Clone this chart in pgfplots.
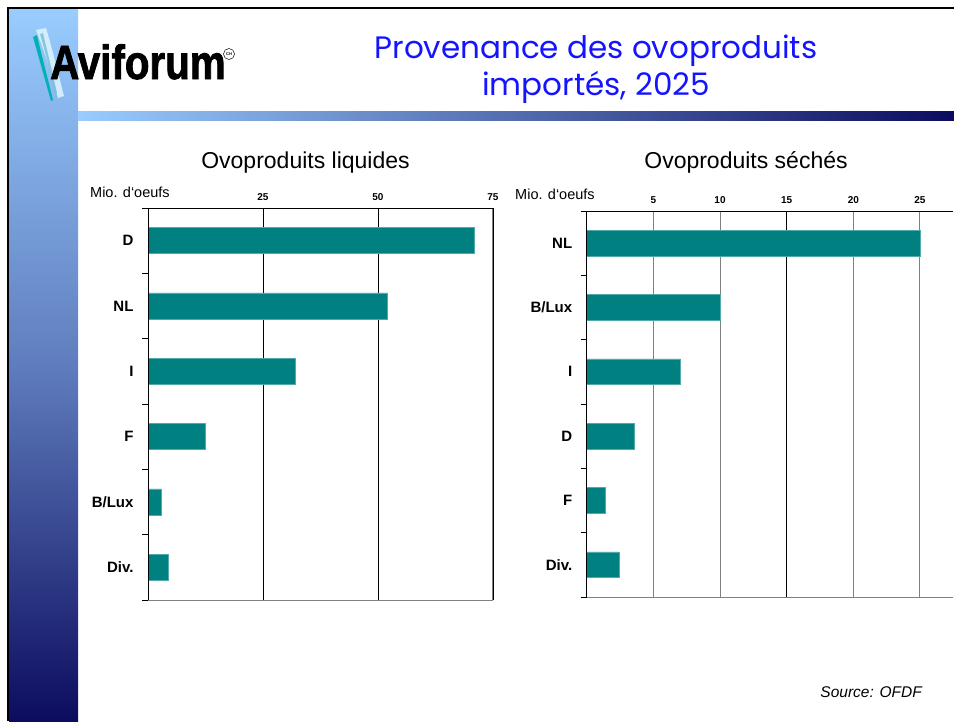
\documentclass[border=0pt]{standalone}
\usepackage{pgfplots}
\pgfplotsset{compat=1.18}
\usepackage{fontspec}
\setmainfont{Liberation Sans}
\newfontfamily\titlefont{Poppins}
\newfontfamily\logofont{Liberation Sans}[FakeBold=1.8]
\definecolor{barteal}{RGB}{0,128,128}
\definecolor{baredge}{RGB}{80,170,170}
\definecolor{lightblu}{RGB}{153,204,255}
\definecolor{midblu}{RGB}{95,125,190}
\definecolor{navy}{RGB}{12,12,94}
\definecolor{titleblue}{RGB}{20,20,255}
\newcommand{\fs}[1]{\fontsize{#1}{#1}\selectfont}
\begin{document}
\begin{tikzpicture}[x=1pt,y=1pt]
\path[use as bounding box] (0,0) rectangle (954,-721);
% decoration
\shade[top color=lightblu, bottom color=navy, middle color=midblu] (9,-9) rectangle (78,-721);
\shade[left color=lightblu, right color=navy] (78,-111) rectangle (954,-120);
\draw[line width=1.6pt] (8,-721) -- (8,-8) -- (954,-8);
% logo feather
\fill[white!85!cyan, opacity=0.9] (36,-30) .. controls (44,-50) and (52,-75) .. (58,-98) -- (64,-96) .. controls (58,-72) and (52,-48) .. (46,-28) -- cycle;
\fill[teal!60!cyan] (33,-37) .. controls (39,-58) and (45,-80) .. (51,-101) -- (53,-100) .. controls (48,-79) and (42,-57) .. (37,-35) -- cycle;
\fill[cyan!50!teal!60!white, opacity=0.8] (40,-34) .. controls (46,-55) and (51,-75) .. (55,-94) -- (57,-93) .. controls (53,-74) and (48,-54) .. (43,-33) -- cycle;
\node[anchor=base west, inner sep=0pt] at (50,-79) {\scalebox{0.84}[1]{\logofont\fs{48}\bfseries Aviforum}};
\draw[line width=0.5pt] (229,-54) circle (5.5);
\node[inner sep=0pt] at (229,-54) {\fs{4}\bfseries CH};
% title
\node[anchor=base, inner sep=0pt, text=titleblue, font=\titlefont\fs{31}] at (596,-58) {Provenance des ovoproduits};
\node[anchor=base, inner sep=0pt, text=titleblue, font=\titlefont\fs{31}] at (596,-95) {importés, 2025};
% chart titles
\node[anchor=base, inner sep=0pt, font=\fs{23}] at (305.5,-168) {Ovoproduits liquides};
\node[anchor=base, inner sep=0pt, font=\fs{23}] at (746,-168) {Ovoproduits séchés};
\node[anchor=base west, inner sep=0pt, font=\fs{14.5}] at (90,-197) {Mio. d‘oeufs};
\node[anchor=base west, inner sep=0pt, font=\fs{14.5}] at (515,-199) {Mio. d‘oeufs};
\node[anchor=base east, inner sep=0pt, font=\fs{15.5}\itshape] at (922,-697) {Source: OFDF};

\pgfplotsset{common/.style={scale only axis,
  ymin=-0.5, ymax=5.5, xticklabel pos=upper, ytick pos=left,
  xticklabel style={font=\fs{10}\bfseries, yshift=4pt, /pgf/number format/assume math mode=true},
  ytick={0,1,2,3,4,5},
  yticklabel style={font=\fs{15}\bfseries, xshift=-11pt},
  minor ytick={-0.5,0.5,1.5,2.5,3.5,4.5,5.5},
  major tick length=0pt, minor tick length=6pt, tick align=outside,
  minor tick style={black, line width=0.9pt},
  axis line style={draw=none}, clip=false,
  xbar, bar width=0.4}}

% left chart
\begin{axis}[common, at={(148pt,-208pt)}, anchor=north west,
  width=345pt, height=392pt,
  xmin=0, xmax=75,
  xtick={25,50,75},
  xmajorgrids, grid style={black, line width=0.9pt},
  yticklabels={Div.,B/Lux,F,I,NL,D}]
\addplot[fill=barteal, draw=baredge, line width=0.5pt] coordinates {(4.3,0) (2.8,1) (12.4,2) (32,3) (52,4) (70.9,5)};
\draw[gray, line width=1pt] (axis cs:75,5.5) -- (axis cs:75,-0.5) -- (axis cs:0,-0.5);
\draw[black, line width=0.9pt] (axis cs:0,-0.5) -- (axis cs:0,5.5) -- (axis cs:75,5.5);
\end{axis}

% right chart
\begin{axis}[common, at={(586.7pt,-211pt)}, anchor=north west,
  width=366.6pt, height=386pt,
  xmin=0, xmax=27.5,
  xtick={5,10,20,25},
  extra x ticks={15}, extra x tick style={grid style={black, line width=0.9pt}},
  xmajorgrids, grid style={gray, line width=1pt},
  yticklabels={Div.,F,D,I,B/Lux,NL}]
\addplot[fill=barteal, draw=baredge, line width=0.5pt] coordinates {(2.42,0) (1.37,1) (3.55,2) (7.05,3) (10,4) (25,5)};
\draw[gray, line width=1pt] (axis cs:0,-0.5) -- (axis cs:27.5,-0.5);
\draw[black, line width=0.9pt] (axis cs:0,-0.5) -- (axis cs:0,5.5) -- (axis cs:27.5,5.5);
\end{axis}
\end{tikzpicture}
\end{document}
